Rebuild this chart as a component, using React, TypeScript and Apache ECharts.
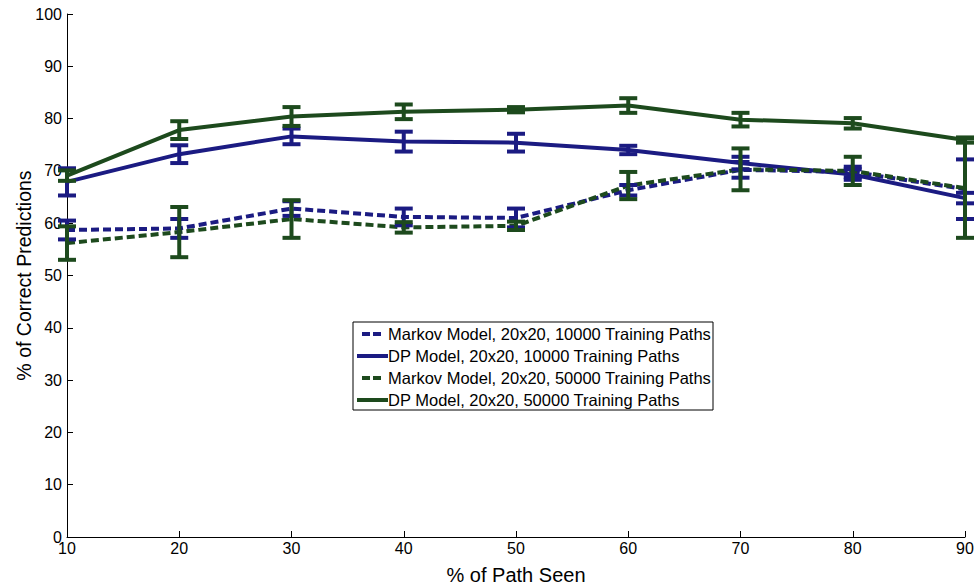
import React, { useEffect, useRef } from "react";
import * as echarts from "echarts";

const xVals = [10, 20, 30, 40, 50, 60, 70, 80, 90];

const markov10k = [58.7, 59.0, 62.8, 61.2, 61.0, 66.3, 70.2, 69.8, 66.5];
const markov10kErr = [1.8, 1.8, 1.4, 1.6, 1.8, 1.0, 1.5, 1.0, 5.7];
const dp10k = [67.9, 73.2, 76.6, 75.6, 75.4, 74.0, 71.5, 69.3, 64.8];
const dp10kErr = [2.6, 1.7, 1.5, 1.9, 1.7, 0.8, 1.2, 1.0, 1.0];
const markov50k = [56.2, 58.3, 60.8, 59.2, 59.5, 67.2, 70.3, 70.0, 66.7];
const markov50kErr = [3.2, 4.8, 3.6, 1.0, 0.8, 2.6, 4.0, 2.7, 9.5];
const dp50k = [69.1, 77.8, 80.4, 81.3, 81.7, 82.5, 79.8, 79.1, 75.9];
const dp50kErr = [1.0, 1.7, 1.8, 1.4, 0.5, 1.4, 1.3, 1.0, 0.5];

const seriesNames = [
  "Markov Model, 20x20, 10000 Training Paths",
  "DP Model, 20x20, 10000 Training Paths",
  "Markov Model, 20x20, 50000 Training Paths",
  "DP Model, 20x20, 50000 Training Paths",
];

const BLUE = "#1b1b82";
const GREEN = "#1d4a1d";
const FONT = "Liberation Sans";

function lineSeries(name: string, vals: number[], color: string, dashed: boolean) {
  return {
    type: "line",
    name,
    data: xVals.map((x, i) => [x, vals[i]]),
    symbol: "none",
    lineStyle: { color, width: 4, type: dashed ? [8, 4] : "solid" },
    itemStyle: { color },
    z: 3,
  };
}

function errSeries(vals: number[], errs: number[], color: string) {
  return {
    type: "custom",
    name: "err",
    data: xVals.map((x, i) => [x, vals[i] - errs[i], vals[i] + errs[i]]),
    z: 4,
    renderItem: (params: any, api: any) => {
      const x = api.value(0);
      const lo = api.coord([x, api.value(1)]);
      const hi = api.coord([x, api.value(2)]);
      const hw = 9;
      const st = { stroke: color, lineWidth: 4 };
      return {
        type: "group",
        children: [
          { type: "line", shape: { x1: lo[0], y1: lo[1], x2: hi[0], y2: hi[1] }, style: st },
          { type: "line", shape: { x1: lo[0] - hw, y1: lo[1], x2: lo[0] + hw, y2: lo[1] }, style: st },
          { type: "line", shape: { x1: hi[0] - hw, y1: hi[1], x2: hi[0] + hw, y2: hi[1] }, style: st },
        ],
      };
    },
  };
}

// legend layout (page pixel coords)
const LEG_X = 353;
const LEG_Y = 322;
const LEG_W = 360;
const LEG_H = 88;
const rowY = [334, 356, 378, 400];
const legendColors = [BLUE, BLUE, GREEN, GREEN];
const legendDashed = [true, false, true, false];

function legendGraphics() {
  const els: any[] = [
    {
      type: "rect",
      shape: { x: LEG_X, y: LEG_Y, width: LEG_W, height: LEG_H },
      style: { fill: "#fff", stroke: "#000", lineWidth: 1 },
      z: 10,
    },
  ];
  seriesNames.forEach((name, i) => {
    const y = rowY[i];
    const color = legendColors[i];
    if (legendDashed[i]) {
      els.push({ type: "line", shape: { x1: 362, y1: y, x2: 370, y2: y }, style: { stroke: color, lineWidth: 4 }, z: 11 });
      els.push({ type: "line", shape: { x1: 373, y1: y, x2: 381, y2: y }, style: { stroke: color, lineWidth: 4 }, z: 11 });
    } else {
      els.push({ type: "line", shape: { x1: 357, y1: y, x2: 388, y2: y }, style: { stroke: color, lineWidth: 4 }, z: 11 });
    }
    els.push({
      type: "text",
      x: 388,
      y,
      style: { text: name, fontFamily: FONT, fontSize: 16.5, fill: "#000", verticalAlign: "middle", align: "left" },
      z: 11,
    });
  });
  return els;
}

export default function App() {
  const ref = useRef<HTMLDivElement>(null);
  useEffect(() => {
    if (!ref.current) return;
    document.body.style.margin = "0";
    const chart = echarts.init(ref.current, null, { renderer: "svg" });
    chart.setOption({
      animation: false,
      backgroundColor: "#ffffff",
      textStyle: { fontFamily: FONT },
      grid: { left: 67, right: 12, top: 14, bottom: 49, containLabel: false, outerBoundsMode: "none" },
      xAxis: {
        type: "value",
        min: 10,
        max: 90,
        interval: 10,
        name: "% of Path Seen",
        nameLocation: "middle",
        nameGap: 28,
        nameMoveOverlap: false,
        nameTextStyle: { fontFamily: FONT, fontSize: 20, color: "#000" },
        axisLine: { lineStyle: { color: "#000", width: 1 } },
        axisTick: { inside: true, length: 6, lineStyle: { color: "#000" } },
        axisLabel: { fontFamily: FONT, fontSize: 16, color: "#000", margin: 3 },
        splitLine: { show: false },
      },
      yAxis: {
        type: "value",
        min: 0,
        max: 100,
        interval: 10,
        name: "% of Correct Predictions",
        nameLocation: "middle",
        nameGap: 33,
        nameMoveOverlap: false,
        nameTextStyle: { fontFamily: FONT, fontSize: 19.5, color: "#000" },
        axisLine: { show: true, lineStyle: { color: "#000", width: 1 } },
        axisTick: { show: true, inside: true, length: 6, lineStyle: { color: "#000" } },
        axisLabel: { fontFamily: FONT, fontSize: 16, color: "#000", margin: 5 },
        splitLine: { show: false },
      },
      graphic: legendGraphics(),
      series: [
        lineSeries(seriesNames[0], markov10k, BLUE, true),
        lineSeries(seriesNames[1], dp10k, BLUE, false),
        lineSeries(seriesNames[2], markov50k, GREEN, true),
        lineSeries(seriesNames[3], dp50k, GREEN, false),
        errSeries(markov10k, markov10kErr, BLUE),
        errSeries(dp10k, dp10kErr, BLUE),
        errSeries(markov50k, markov50kErr, GREEN),
        errSeries(dp50k, dp50kErr, GREEN),
      ],
    });
    return () => chart.dispose();
  }, []);
  return <div ref={ref} style={{ width: 977, height: 586 }} />;
}
